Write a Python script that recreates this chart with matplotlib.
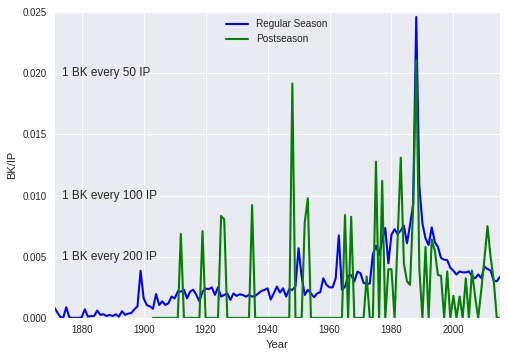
import matplotlib
matplotlib.use("Agg")
import matplotlib.pyplot as plt
import numpy as np
import seaborn as sns

# balks per inning pitched, values in units of 1e-3
reg_years = np.arange(1871, 2016)
reg_bk = [
    0.92, 0.5, 0.1, 0.0, 0.87, 0.05, 0.0, 0.0, 0.0, 0.05,          # 1871-1880
    0.7, 0.1, 0.15, 0.15, 0.6, 0.25, 0.3, 0.15, 0.25, 0.15,        # 1881-1890
    0.3, 0.1, 0.55, 0.25, 0.35, 0.4, 0.7, 0.95, 3.85, 1.6,         # 1891-1900
    1.05, 0.95, 0.75, 1.95, 1.05, 1.35, 1.06, 1.2, 1.74, 1.6,      # 1901-1910
    2.15, 2.15, 2.3, 1.6, 2.15, 2.3, 1.88, 1.35, 2.15, 2.4,        # 1911-1920
    2.35, 2.5, 1.88, 2.5, 1.74, 1.88, 2.0, 1.47, 2.0, 1.8,         # 1921-1930
    1.93, 1.88, 1.74, 1.88, 1.74, 1.8, 2.0, 2.2, 2.29, 2.42,       # 1931-1940
    1.5, 2.0, 2.56, 2.07, 2.42, 1.74, 2.34, 2.29, 2.56, 5.69,      # 1941-1950
    3.38, 1.88, 2.29, 2.0, 1.69, 2.0, 2.1, 3.24, 2.7, 2.5,         # 1951-1960
    2.5, 3.24, 6.75, 2.29, 2.56, 3.43, 3.5, 2.96, 3.78, 3.65,      # 1961-1970
    2.85, 2.8, 2.8, 5.2, 5.9, 5.15, 6.37, 7.35, 4.46, 6.8,         # 1971-1980
    7.25, 6.85, 7.15, 7.54, 6.1, 7.6, 9.3, 24.6, 10.8, 7.7,        # 1981-1990
    6.5, 5.96, 7.4, 6.2, 5.8, 4.9, 4.76, 4.72, 4.1, 3.85,          # 1991-2000
    3.55, 3.8, 3.72, 3.72, 3.8, 3.43, 3.24, 3.55, 3.25, 4.2,       # 2001-2010
    4.0, 3.88, 3.05, 3.0, 3.35,                                    # 2011-2015
]

post_years = np.arange(1903, 2016)
post_bk = [
    0, 0, 0, 0, 0, 0, 0, 0,                                        # 1903-1910
    0, 6.86, 0, 0, 0, 0, 0, 0, 7.1, 0,                             # 1911-1920
    0, 0, 0, 0, 8.33, 8.06, 0, 0, 0, 0,                            # 1921-1930
    0, 0, 0, 0, 9.23, 0, 0, 0, 0, 0,                               # 1931-1940
    0, 0, 0, 0, 0, 0, 0, 19.17, 0, 0,                              # 1941-1950
    0, 7.8, 9.78, 0, 0, 0, 0, 0, 0, 0,                             # 1951-1960
    0, 0, 0, 0, 8.41, 0, 8.27, 0, 0, 0,                            # 1961-1970
    0, 3.38, 0, 0, 12.77, 0, 11.2, 0, 3.98, 3.98,                  # 1971-1980
    0, 6.5, 13.1, 4.47, 3.0, 2.7, 9.0, 21.08, 4.0, 0,              # 1981-1990
    5.8, 0, 6.4, 5.5, 3.5, 3.45, 0, 3.8, 0, 1.8,                   # 1991-2000
    0, 1.74, 0, 3.24, 0, 3.87, 1.74, 0, 2.29, 4.8,                 # 2001-2010
    7.5, 5.0, 3.1, 0, 0,                                           # 2011-2015
]

guide_levels = [0.020, 0.010, 0.005]
guide_labels = ['1 BK every 50 IP', '1 BK every 100 IP', '1 BK every 200 IP']

sns.set_style("darkgrid")
plt.rcParams['font.family'] = ['Liberation Sans', 'DejaVu Sans']

fig, ax = plt.subplots(figsize=(5.08, 3.56), dpi=100)
fig.subplots_adjust(left=0.106, right=0.984, bottom=0.107, top=0.966)

ax.plot(reg_years, np.array(reg_bk) / 1000, color='b', lw=1.5, label='Regular Season')
ax.plot(post_years, np.array(post_bk) / 1000, color='g', lw=1.5, label='Postseason')

for lev, txt in zip(guide_levels, guide_labels):
    ax.text(1873.5, lev, txt, va='center', fontsize=8.5, color='.15')

ax.set_xlim(1871, 2015)
ax.set_ylim(0, 0.025)
ax.set_xticks(np.arange(1880, 2001, 20))
ax.set_yticks(np.arange(0, 0.0251, 0.005))
ax.set_yticklabels(['%.3f' % v for v in np.arange(0, 0.0251, 0.005)])
ax.tick_params(labelsize=7.0, colors='.15', length=0, pad=5)
ax.set_xlabel('Year', fontsize=8, color='.15')
ax.set_ylabel('BK/IP', fontsize=8, color='.15')
ax.legend(loc='upper center', frameon=False, fontsize=7.2, borderaxespad=0.3,
          handlelength=2.2)

fig.savefig('out.png', dpi=100)
